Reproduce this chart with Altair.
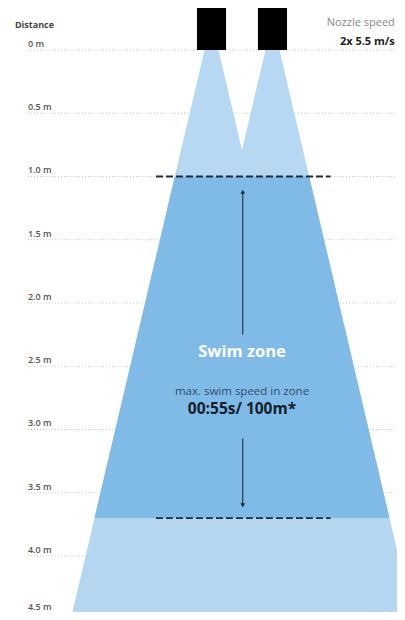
import altair as alt
import pandas as pd

# ---- data (metres) ----
depth_ticks = [0, 0.5, 1.0, 1.5, 2.0, 2.5, 3.0, 3.5, 4.0, 4.5]
tick_labels = ["0 m", "0.5 m", "1.0 m", "1.5 m", "2.0 m", "2.5 m", "3.0 m", "3.5 m", "4.0 m", "4.5 m"]

# nozzles: left / right edge, top / bottom depth
nozzle_left = [-0.356, 0.126]
nozzle_right = [-0.126, 0.356]
nozzle_top = [-0.348, -0.348]
nozzle_bottom = [0.0, 0.0]

# jet cones (polygons as horizontal areas): depth, left edge, right edge
cone_name = ["left", "left", "right", "right"]
cone_depth = [0.0, 1.0, 0.0, 1.0]
cone_left = [-0.296, -0.531, 0.186, -0.049]
cone_right = [-0.186, 0.049, 0.296, 0.531]

lower_depth = [1.0, 4.6]
lower_left = [-0.531, -1.377]
lower_right = [0.531, 1.377]

swim_depth = [1.0, 3.70]
swim_left = [-0.531, -1.166]
swim_right = [0.531, 1.166]

dash_depth = [1.0, 3.70]
dash_left = [-0.68, -0.68]
dash_right = [0.70, 0.70]

arrow_from = [1.12, 3.07]
arrow_to = [2.25, 3.60]
arrow_x = 0.006

W, H = 397, 612
XDOM = [-1.913, 1.2253]
YDOM = [-0.395, 4.4427]

xs = alt.Scale(domain=XDOM, nice=False, zero=False)
ys = alt.Scale(domain=YDOM, nice=False, zero=False, reverse=True)

grid_df = pd.DataFrame({"d": depth_ticks, "label": tick_labels,
                        "x0": [-1.692] * len(depth_ticks), "x1": [XDOM[1]] * len(depth_ticks)})

grid = alt.Chart(grid_df).mark_rule(color="#c4c4c4", strokeDash=[1, 2], strokeWidth=1).encode(
    x=alt.X("x0:Q", scale=xs, axis=None), x2="x1:Q",
    y=alt.Y("d:Q", scale=ys, axis=None))

label_style = dict(align="left", baseline="alphabetic", fontSize=9, fontWeight=600,
                   color="#555555", font="Open Sans")
labels = alt.Chart(grid_df.iloc[:-1]).mark_text(dy=-3, **label_style).encode(
    x=alt.X("x0:Q", scale=xs, axis=None), y=alt.Y("d:Q", scale=ys, axis=None), text="label:N")
last_label = alt.Chart(grid_df.iloc[[-1]]).mark_text(dy=-9, **label_style).encode(
    x=alt.X("x0:Q", scale=xs, axis=None), y=alt.Y("d:Q", scale=ys, axis=None), text="label:N")

cones_df = pd.DataFrame({"name": cone_name, "d": cone_depth, "l": cone_left, "r": cone_right})
cones = alt.Chart(cones_df).mark_area(orient="horizontal", color="#b6d8f2", opacity=1).encode(
    y=alt.Y("d:Q", scale=ys, axis=None), x=alt.X("l:Q", scale=xs, axis=None), x2="r:Q",
    detail="name:N")

lower_df = pd.DataFrame({"d": lower_depth, "l": lower_left, "r": lower_right})
lower = alt.Chart(lower_df).mark_area(orient="horizontal", color="#b4d6f1", clip=True).encode(
    y=alt.Y("d:Q", scale=ys, axis=None), x=alt.X("l:Q", scale=xs, axis=None), x2="r:Q")

swim_df = pd.DataFrame({"d": swim_depth, "l": swim_left, "r": swim_right})
swim = alt.Chart(swim_df).mark_area(orient="horizontal", color="#80bbe7").encode(
    y=alt.Y("d:Q", scale=ys, axis=None), x=alt.X("l:Q", scale=xs, axis=None), x2="r:Q")

noz_df = pd.DataFrame({"l": nozzle_left, "r": nozzle_right, "t": nozzle_top, "b": nozzle_bottom})
nozzles = alt.Chart(noz_df).mark_rect(color="#000000", clip=True).encode(
    x=alt.X("l:Q", scale=xs, axis=None), x2="r:Q",
    y=alt.Y("t:Q", scale=ys, axis=None), y2="b:Q")

dash_df = pd.DataFrame({"d": dash_depth, "l": dash_left, "r": dash_right})
dashes = alt.Chart(dash_df).mark_rule(color="#1d2b3a", strokeDash=[7, 3], strokeWidth=1.8).encode(
    x=alt.X("l:Q", scale=xs, axis=None), x2="r:Q", y=alt.Y("d:Q", scale=ys, axis=None))

arrow_df = pd.DataFrame({"a": arrow_from, "b": arrow_to, "x": [arrow_x] * 2})
arrows = alt.Chart(arrow_df).mark_rule(color="#2a3a4c", strokeWidth=1.2).encode(
    x=alt.X("x:Q", scale=xs, axis=None), y=alt.Y("a:Q", scale=ys, axis=None), y2="b:Q")

head_df = pd.DataFrame({"d": [arrow_from[0], arrow_to[1]], "x": [arrow_x] * 2,
                        "shape": ["triangle-up", "triangle-down"]})
heads = alt.Chart(head_df).mark_point(filled=True, color="#1d2b3a", size=22, opacity=1).encode(
    x=alt.X("x:Q", scale=xs, axis=None), y=alt.Y("d:Q", scale=ys, axis=None),
    shape=alt.Shape("shape:N", scale=None, legend=None))

text_df = pd.DataFrame({
    "x": [0.0, 0.0, 0.0],
    "d": [2.39, 2.70, 2.84],
    "t": ["Swim zone", "max. swim speed in zone", "00:55s/ 100m*"],
})
t1 = alt.Chart(text_df.iloc[[0]]).mark_text(fontSize=16.5, fontWeight="bold", color="#ffffff",
                                            font="Open Sans", baseline="middle").encode(
    x=alt.X("x:Q", scale=xs, axis=None), y=alt.Y("d:Q", scale=ys, axis=None), text="t:N")
t2 = alt.Chart(text_df.iloc[[1]]).mark_text(fontSize=11.5, color="#2f4d72",
                                            font="Open Sans", baseline="middle").encode(
    x=alt.X("x:Q", scale=xs, axis=None), y=alt.Y("d:Q", scale=ys, axis=None), text="t:N")
t3 = alt.Chart(text_df.iloc[[2]]).mark_text(fontSize=15.5, fontWeight="bold", color="#15202c",
                                            font="Open Sans", baseline="middle").encode(
    x=alt.X("x:Q", scale=xs, axis=None), y=alt.Y("d:Q", scale=ys, axis=None), text="t:N")

head_text_df = pd.DataFrame({
    "x": [-1.795, 1.208, 1.208],
    "d": [-0.198, -0.213, -0.063],
    "t": ["Distance", "Nozzle speed", "2x 5.5 m/s"],
})
h1 = alt.Chart(head_text_df.iloc[[0]]).mark_text(align="left", baseline="middle", fontSize=9,
                                                 fontWeight="bold", color="#444444", font="Open Sans").encode(
    x=alt.X("x:Q", scale=xs, axis=None), y=alt.Y("d:Q", scale=ys, axis=None), text="t:N")
h2 = alt.Chart(head_text_df.iloc[[1]]).mark_text(align="right", baseline="middle", fontSize=11,
                                                 color="#888888", font="Open Sans").encode(
    x=alt.X("x:Q", scale=xs, axis=None), y=alt.Y("d:Q", scale=ys, axis=None), text="t:N")
h3 = alt.Chart(head_text_df.iloc[[2]]).mark_text(align="right", baseline="middle", fontSize=11,
                                                 fontWeight="bold", color="#222222", font="Open Sans").encode(
    x=alt.X("x:Q", scale=xs, axis=None), y=alt.Y("d:Q", scale=ys, axis=None), text="t:N")

chart = alt.layer(grid, labels, last_label, cones, lower, swim, dashes, arrows, heads, nozzles,
                  t1, t2, t3, h1, h2, h3).properties(
    width=W, height=H,
    padding={"left": -8, "top": -8, "right": 0, "bottom": 0},
    autosize=alt.AutoSizeParams(type="none"),
    background="#ffffff"
).configure_view(stroke=None)

chart.save("out.html", embed_options={"renderer": "svg", "actions": False})
